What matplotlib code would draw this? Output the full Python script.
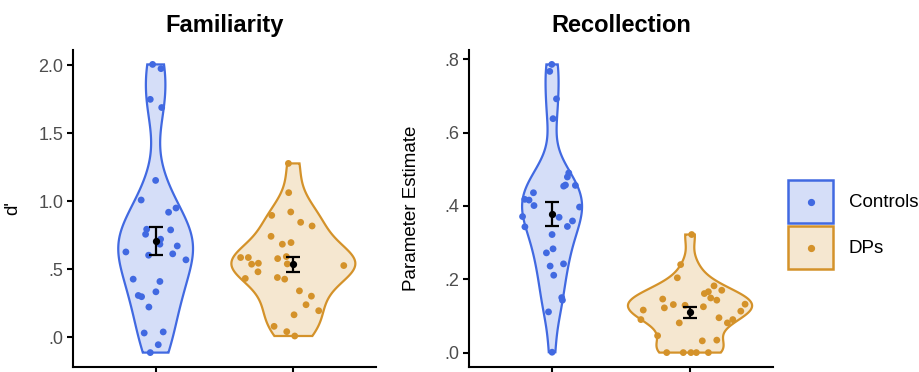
import numpy as np
import matplotlib
matplotlib.use("Agg")
import matplotlib.pyplot as plt
from matplotlib.patches import Rectangle, Patch
from matplotlib.lines import Line2D
from matplotlib.legend_handler import HandlerBase

plt.rcParams['font.family'] = ['Liberation Sans', 'DejaVu Sans']

groups = ["Controls", "DPs"]
panel_titles = ["Familiarity", "Recollection"]
y_labels = ["d'", "Parameter Estimate"]

fam_controls = [2.007, 1.976, 1.75, 1.69, 1.154, 1.01, 0.951, 0.920, 0.795, 0.758,
                0.790, 0.722, 0.685, 0.672, 0.628, 0.604, 0.614, 0.570, 0.428, 0.411,
                0.335, 0.308, 0.299, 0.223, 0.032, 0.040, -0.054, -0.112]
fam_controls_jit = [-0.022, 0.039, -0.039, 0.044, 0.0, -0.105, 0.148, 0.094, -0.065, -0.073,
                    0.109, 0.036, 0.031, 0.157, -0.216, -0.051, 0.124, 0.220, -0.163, 0.031,
                    0.002, -0.126, -0.102, -0.049, -0.083, 0.055, 0.019, -0.039]
fam_dps = [1.279, 1.064, 0.922, 0.897, 0.846, 0.819, 0.743, 0.685, 0.697, 0.587,
           0.587, 0.538, 0.545, 0.482, 0.433, 0.579, 0.594, 0.540, 0.528, 0.440,
           0.428, 0.342, 0.303, 0.240, 0.196, 0.166, 0.081, 0.042, 0.010]
fam_dps_jit = [-0.036, -0.034, -0.019, -0.157, 0.053, 0.136, -0.162, -0.080, -0.017, -0.383,
               -0.327, -0.303, -0.254, -0.257, -0.349, -0.114, -0.051, -0.044, 0.366, -0.116,
               -0.063, 0.044, 0.131, 0.092, 0.184, 0.005, -0.140, -0.048, 0.010]
rec_controls = [0.786, 0.767, 0.692, 0.638, 0.490, 0.479, 0.454, 0.457, 0.456, 0.436,
                0.418, 0.416, 0.401, 0.397, 0.371, 0.343, 0.369, 0.359, 0.344, 0.322,
                0.283, 0.272, 0.236, 0.211, 0.242, 0.150, 0.143, 0.111, 0.001]
rec_controls_jit = [-0.002, -0.017, 0.032, 0.007, 0.121, 0.111, 0.084, 0.097, 0.169, -0.135,
                    -0.198, -0.167, -0.131, 0.199, -0.214, -0.197, 0.051, 0.148, 0.111, 0.0,
                    0.007, -0.041, -0.014, 0.012, 0.083, 0.070, 0.075, -0.026, 0.0]
rec_dps = [0.322, 0.240, 0.204, 0.182, 0.170, 0.161, 0.166, 0.149, 0.143, 0.146,
           0.131, 0.122, 0.129, 0.125, 0.132, 0.116, 0.113, 0.095, 0.090, 0.081,
           0.090, 0.081, 0.046, 0.032, 0.034, 0.0, 0.0, 0.0, 0.0, 0.0]
rec_dps_jit = [0.012, -0.068, -0.092, 0.174, 0.230, 0.104, 0.133, 0.150, 0.194, -0.198,
               -0.121, -0.186, -0.036, 0.097, 0.399, -0.339, 0.368, 0.210, 0.310, 0.271,
               -0.356, -0.078, -0.235, 0.089, 0.194, -0.169, -0.049, 0.007, 0.046, 0.133]

fam_means = [0.707, 0.539]
fam_se = [0.104, 0.055]
rec_means = [0.377, 0.110]
rec_se = [0.033, 0.015]

fam_ticks = [0.0, 0.5, 1.0, 1.5, 2.0]
fam_ticklabels = [".0", ".5", "1.0", "1.5", "2.0"]
rec_ticks = [0.0, 0.2, 0.4, 0.6, 0.8]
rec_ticklabels = [".0", ".2", ".4", ".6", ".8"]

line_colors = ["#4169E1", "#D4922A"]
fill_alpha = 0.22


def bw_nrd0(x):
    x = np.asarray(x)
    hi = np.std(x, ddof=1)
    iqr = np.subtract(*np.percentile(x, [75, 25]))
    lo = min(hi, iqr / 1.34)
    return 0.9 * lo * len(x) ** (-0.2)


def kde(x, grid):
    x = np.asarray(x)
    bw = bw_nrd0(x)
    z = (grid[:, None] - x[None, :]) / bw
    return np.exp(-0.5 * z ** 2).sum(axis=1) / (len(x) * bw * np.sqrt(2 * np.pi))


class ViolinKeyHandler(HandlerBase):
    def create_artists(self, legend, orig_handle, xdescent, ydescent, width, height,
                       fontsize, trans):
        col = orig_handle.get_edgecolor()
        rect = Rectangle((-xdescent, -ydescent), width, height,
                         facecolor=orig_handle.get_facecolor(), edgecolor=col,
                         lw=1.8, transform=trans)
        pt = Line2D([-xdescent + width / 2], [-ydescent + height / 2], marker='o',
                    ls='none', color=col, ms=4.2, transform=trans)
        return [rect, pt]


fig = plt.figure(figsize=(9.2, 3.72), dpi=100)
W, H = 920, 372
ax1 = fig.add_axes([73 / W, (H - 367) / H, 303 / W, 317 / H])
ax2 = fig.add_axes([469.3 / W, (H - 367) / H, 303.5 / W, 317 / H])

panels = [
    (ax1, [fam_controls, fam_dps], [fam_controls_jit, fam_dps_jit], fam_means, fam_se,
     fam_ticks, fam_ticklabels),
    (ax2, [rec_controls, rec_dps], [rec_controls_jit, rec_dps_jit], rec_means, rec_se,
     rec_ticks, rec_ticklabels),
]

for i, (ax, data, jit, means, se, ticks, tlabels) in enumerate(panels):
    grids = [np.linspace(min(d), max(d), 512) for d in data]
    dens = [kde(d, g) for d, g in zip(data, grids)]
    maxd = max(dd.max() for dd in dens)
    for k, (d, g, dd) in enumerate(zip(data, grids, dens)):
        pos = k + 1
        hw = dd / maxd * 0.45
        xs = np.concatenate([pos - hw, (pos + hw)[::-1]])
        ys = np.concatenate([g, g[::-1]])
        ax.fill(xs, ys, facecolor=line_colors[k], alpha=fill_alpha, edgecolor='none', zorder=1)
        ax.fill(xs, ys, facecolor='none', edgecolor=line_colors[k], lw=1.6, zorder=2)
        ax.scatter(pos + np.asarray(jit[k]), d, s=24, color=line_colors[k],
                   edgecolors='none', zorder=3)
        ax.errorbar([pos], [means[k]], yerr=[se[k]], fmt='o', color='black', ms=4.2,
                    capsize=5, capthick=1.6, elinewidth=1.6, zorder=4)
    allv = np.concatenate([np.asarray(d) for d in data])
    lo, hi = allv.min(), allv.max()
    r = hi - lo
    ax.set_ylim(lo - 0.05 * r, hi + 0.05 * r)
    ax.set_xlim(0.4, 2.6)
    ax.set_xticks([1, 2])
    ax.set_xticklabels([])
    ax.set_yticks(ticks)
    ax.set_yticklabels(tlabels)
    for s in ['top', 'right']:
        ax.spines[s].set_visible(False)
    for s in ['left', 'bottom']:
        ax.spines[s].set_linewidth(1.5)
        ax.spines[s].set_color('black')
    ax.tick_params(axis='both', width=1.5, length=4, color='black', labelsize=13,
                   labelcolor='#4D4D4D', pad=3)
    ax.set_ylabel(y_labels[i], fontsize=13.5, color='black')
    ax.set_title(panel_titles[i], fontsize=17, fontweight='bold', pad=13)

ax1.yaxis.set_label_coords(-52 / 303, 0.5)
ax2.yaxis.set_label_coords(-48.8 / 303.5, 0.5)

legend_fs = 13.5
px2pt = 72 / 100
key_h = 43 * px2pt / legend_fs
handles = [Patch(facecolor=matplotlib.colors.to_rgba(c, fill_alpha), edgecolor=c)
           for c in line_colors]
fig.legend(handles, groups, handler_map={Patch: ViolinKeyHandler()},
           loc='upper left', bbox_to_anchor=(788 / W, 1 - 180 / H), bbox_transform=fig.transFigure,
           frameon=False, fontsize=legend_fs,
           handlelength=45 * px2pt / legend_fs,
           handleheight=(key_h - 0.245) / 0.65,
           labelspacing=3 * px2pt / legend_fs,
           handletextpad=16 * px2pt / legend_fs,
           borderpad=0, borderaxespad=0)

fig.savefig("out.png", dpi=100)
